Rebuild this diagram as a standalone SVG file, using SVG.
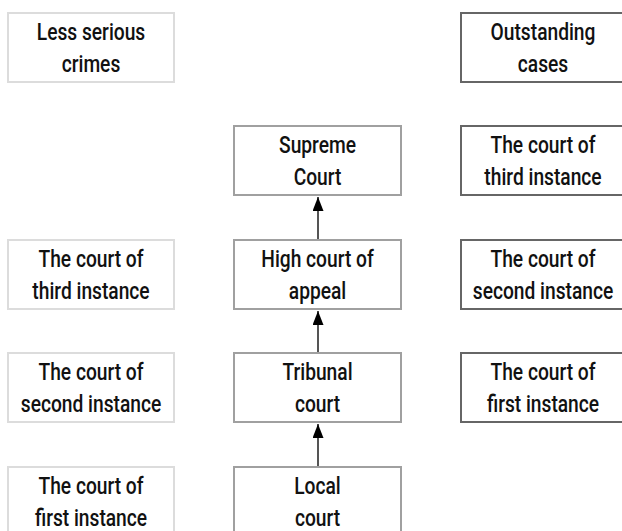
<svg xmlns="http://www.w3.org/2000/svg" width="622" height="531" viewBox="0 0 622 531">
<defs>
<marker id="ah" markerWidth="14" markerHeight="11" refX="14" refY="5.5" orient="auto" markerUnits="userSpaceOnUse" viewBox="0 0 14 11">
<path d="M0,0 L14,5.5 L0,11 Z" fill="#000"/>
</marker>
<style>
rect{fill:#fff;stroke-width:2}
.l rect{stroke:#dcdcdc}
.m rect{stroke:#a0a0a0}
.r rect{stroke:#666}
text{font-family:"Roboto","Liberation Sans",sans-serif;font-size:24px;font-weight:500;fill:#111;text-anchor:middle}
.c line{stroke:#555;stroke-width:2}
</style>
</defs>
<rect x="0" y="0" width="622" height="531" fill="#fff" style="stroke:none"/>
<g id="less-serious" class="l"><rect x="8" y="13" width="166" height="69"/><g transform="translate(91 0) scale(0.8 1)"><text x="0" y="40">Less serious</text><text x="0" y="72">crimes</text></g></g>
<g id="left-third" class="l"><rect x="8" y="240" width="166" height="69"/><g transform="translate(91 0) scale(0.8 1)"><text x="0" y="267">The court of</text><text x="0" y="299">third instance</text></g></g>
<g id="left-second" class="l"><rect x="8" y="353" width="166" height="69"/><g transform="translate(91 0) scale(0.8 1)"><text x="0" y="380">The court of</text><text x="0" y="412">second instance</text></g></g>
<g id="left-first" class="l"><rect x="8" y="467" width="166" height="69"/><g transform="translate(91 0) scale(0.8 1)"><text x="0" y="494">The court of</text><text x="0" y="526">first instance</text></g></g>
<g id="supreme" class="m"><rect x="234" y="126" width="167" height="69"/><g transform="translate(317.5 0) scale(0.8 1)"><text x="0" y="153">Supreme</text><text x="0" y="185">Court</text></g></g>
<g id="high" class="m"><rect x="234" y="240" width="167" height="69"/><g transform="translate(317.5 0) scale(0.8 1)"><text x="0" y="267">High court of</text><text x="0" y="299">appeal</text></g></g>
<g id="tribunal" class="m"><rect x="234" y="353" width="167" height="69"/><g transform="translate(317.5 0) scale(0.8 1)"><text x="0" y="380">Tribunal</text><text x="0" y="412">court</text></g></g>
<g id="local" class="m"><rect x="234" y="467" width="167" height="69"/><g transform="translate(317.5 0) scale(0.8 1)"><text x="0" y="494">Local</text><text x="0" y="526">court</text></g></g>
<g id="outstanding" class="r"><rect x="461" y="13" width="167" height="69"/><g transform="translate(543 0) scale(0.8 1)"><text x="0" y="40">Outstanding</text><text x="0" y="72">cases</text></g></g>
<g id="right-third" class="r"><rect x="461" y="126" width="167" height="69"/><g transform="translate(543 0) scale(0.8 1)"><text x="0" y="153">The court of</text><text x="0" y="185">third instance</text></g></g>
<g id="right-second" class="r"><rect x="461" y="240" width="167" height="69"/><g transform="translate(543 0) scale(0.8 1)"><text x="0" y="267">The court of</text><text x="0" y="299">second instance</text></g></g>
<g id="right-first" class="r"><rect x="461" y="353" width="167" height="69"/><g transform="translate(543 0) scale(0.8 1)"><text x="0" y="380">The court of</text><text x="0" y="412">first instance</text></g></g>
<g id="connectors" class="c">
<line x1="318" y1="239" x2="318" y2="197" marker-end="url(#ah)"/>
<line x1="318" y1="352" x2="318" y2="311" marker-end="url(#ah)"/>
<line x1="318" y1="466" x2="318" y2="424" marker-end="url(#ah)"/>
</g>
</svg>
